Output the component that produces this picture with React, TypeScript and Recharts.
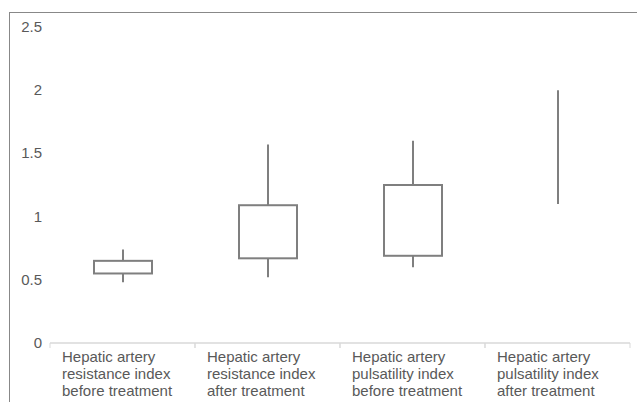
import { ComposedChart, Bar, XAxis, YAxis } from "recharts";

const CATEGORIES = [
  "Hepatic artery\nresistance index\nbefore treatment",
  "Hepatic artery\nresistance index\nafter treatment",
  "Hepatic artery\npulsatility index\nbefore treatment",
  "Hepatic artery\npulsatility index\nafter treatment",
];
const MIN = [0.48, 0.52, 0.6, 1.1];
const Q1 = [0.55, 0.67, 0.69, null];
const Q3 = [0.65, 1.09, 1.25, null];
const MAX = [0.74, 1.57, 1.6, 2.0];
const Y_TICKS = [0, 0.5, 1, 1.5, 2, 2.5];

const BOX_COLOR = "#7f7f7f";
const TEXT_COLOR = "#595959";
const AXIS_COLOR = "#d9d9d9";
const FONT = "Liberation Sans, Arial, sans-serif";

const data = CATEGORIES.map((name, i) => ({
  name,
  min: MIN[i],
  q1: Q1[i],
  q3: Q3[i],
  max: MAX[i],
}));

const BoxShape = (props: any) => {
  const { x, y, width, height, payload } = props;
  const top = Math.min(y, y + height);
  const h = Math.abs(height);
  const cx = x + width / 2;
  const { min, max, q1, q3 } = payload;
  const toPx = (v: number) => top + ((max - v) / (max - min)) * h;
  if (q1 == null || q3 == null) {
    return <line x1={cx} x2={cx} y1={top} y2={top + h} stroke={BOX_COLOR} strokeWidth={2} />;
  }
  const yq3 = toPx(q3);
  const yq1 = toPx(q1);
  return (
    <g>
      <line x1={cx} x2={cx} y1={top} y2={yq3} stroke={BOX_COLOR} strokeWidth={2} />
      <line x1={cx} x2={cx} y1={yq1} y2={top + h} stroke={BOX_COLOR} strokeWidth={2} />
      <rect x={x} y={yq3} width={width} height={yq1 - yq3} fill="#fff" stroke={BOX_COLOR} strokeWidth={2} />
    </g>
  );
};

const XTick = (props: any) => {
  const { x, y, payload } = props;
  const half = 72.5;
  const lines = String(payload.value).split("\n");
  return (
    <g>
      <line x1={x - half} x2={x - half} y1={y} y2={y + 5} stroke={AXIS_COLOR} />
      <line x1={x + half} x2={x + half} y1={y} y2={y + 5} stroke={AXIS_COLOR} />
      <text x={x - half + 12} y={y} fill={TEXT_COLOR} fontSize={15} fontFamily={FONT}>
        {lines.map((l, i) => (
          <tspan key={i} x={x - half + 12} dy={i === 0 ? 19 : 17}>
            {l}
          </tspan>
        ))}
      </text>
    </g>
  );
};

const YTick = (props: any) => {
  const { y, payload } = props;
  return (
    <text x={42} y={y} dy={5} textAnchor="end" fill={TEXT_COLOR} fontSize={15} fontFamily={FONT}>
      {payload.value}
    </text>
  );
};

export default function App() {
  return (
    <div style={{ position: "absolute", left: 0, top: 0, width: 637, height: 402, background: "#fff", overflow: "hidden" }}>
      <div
        style={{
          position: "absolute",
          left: 9,
          top: 12,
          width: 640,
          height: 400,
          borderLeft: "1.5px solid #888",
          borderTop: "1.5px solid #888",
        }}
      />
      <ComposedChart
        width={637}
        height={402}
        data={data}
        margin={{ top: 27, right: 7, bottom: 0, left: 0 }}
        style={{ position: "absolute", left: 0, top: 0 }}
      >
        <XAxis
          dataKey="name"
          interval={0}
          axisLine={{ stroke: AXIS_COLOR, strokeWidth: 1.5 }}
          tickLine={false}
          tickSize={0}
          tickMargin={0}
          tick={<XTick />}
          height={59}
        />
        <YAxis
          domain={[0, 2.5]}
          ticks={Y_TICKS}
          axisLine={false}
          tickLine={false}
          tick={<YTick />}
          width={50}
        />
        <Bar
          dataKey={(d: any) => [d.min, d.max]}
          barSize={58}
          shape={<BoxShape />}
          isAnimationActive={false}
        />
      </ComposedChart>
    </div>
  );
}
